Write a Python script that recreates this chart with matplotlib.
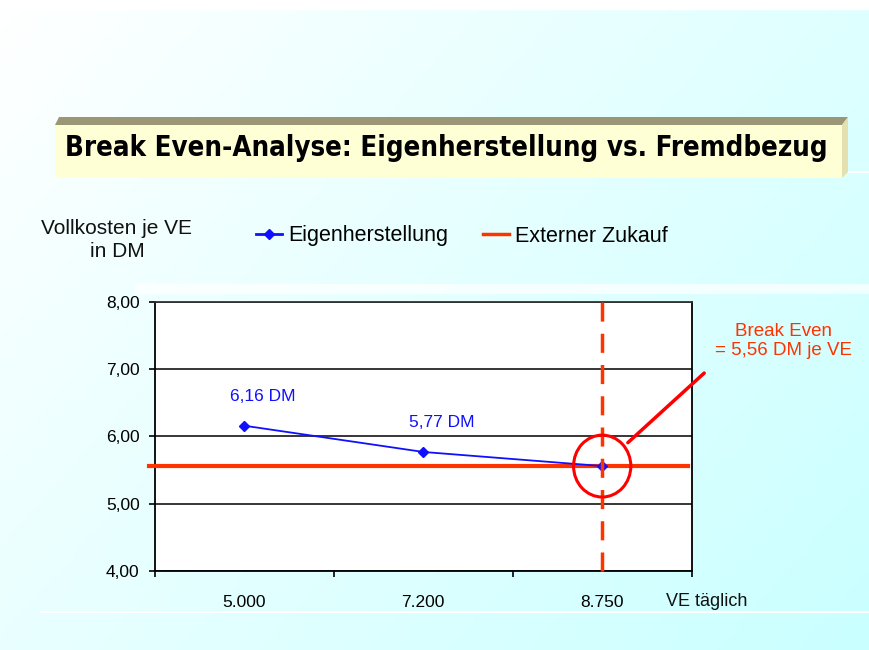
import numpy as np
import matplotlib
matplotlib.use("Agg")
import matplotlib.pyplot as plt
from matplotlib import font_manager
from matplotlib.patches import Rectangle, Polygon, Ellipse
from matplotlib.lines import Line2D

# data
kategorien = ["5.000", "7.200", "8.750"]
eigen = [6.16, 5.77, 5.56]
extern = 5.56
y_ticks = [4, 5, 6, 7, 8]
titel = "Break Even-Analyse: Eigenherstellung vs. Fremdbezug"
y_titel = "Vollkosten je VE\nin DM"
x_titel = "VE täglich"
serien = ["Eigenherstellung", "Externer Zukauf"]

blau = "#1010ff"
rot = "#ff3300"

plt.rcParams["font.family"] = ["Liberation Sans", "DejaVu Sans"]

# schmale fette schrift fuer den titel suchen
def ist_fett(f):
    w = f.weight
    return w in ("bold", "heavy", "black", "semibold", "demibold") or (isinstance(w, int) and w >= 600)

schmal = None
for f in font_manager.fontManager.ttflist:
    name = (f.name + " " + f.fname).lower()
    if ("narrow" in name or "condensed" in name or f.stretch in ("condensed", "semi-condensed")) \
            and ist_fett(f) and "mono" not in name and "italic" not in name and "oblique" not in name:
        schmal = font_manager.FontProperties(fname=f.fname)
        break
if schmal is None:
    schmal = font_manager.FontProperties(family="Liberation Sans", weight="bold")

fig = plt.figure(figsize=(8.7, 6.5), dpi=100)

# hintergrund (pixel-koordinaten)
bg = fig.add_axes([0, 0, 1, 1])
bg.set_xlim(0, 870)
bg.set_ylim(650, 0)
bg.axis("off")
gx, gy = np.meshgrid(np.linspace(0, 1, 200), np.linspace(0, 1, 150))
t = 0.6 * gx + 0.4 * gy
cyan = np.array([0.79, 1.0, 1.0])
img = (1 - t[..., None]) * np.ones(3) + t[..., None] * cyan
bg.imshow(img, extent=(0, 870, 650, 0), aspect="auto", zorder=0)
bg.add_patch(Rectangle((0, 0), 870, 9, color="white", zorder=1))
bg.add_patch(Rectangle((135, 284), 735, 10, color="white", alpha=0.7, lw=0, zorder=1))
bg.add_patch(Rectangle((40, 611), 830, 2, color="white", lw=0, zorder=1))
bg.add_patch(Rectangle((842, 171), 28, 1.5, color="white", lw=0, zorder=1))

# titelbox
bg.add_patch(Rectangle((55, 125), 787, 53, facecolor="#ffffd6", edgecolor="none", zorder=2))
bg.add_patch(Polygon([(55, 125), (59, 117), (848, 117), (842, 125)], closed=True,
                     facecolor="#9a9676", edgecolor="none", zorder=2))
bg.add_patch(Polygon([(842, 125), (848, 117), (848, 172), (842, 178)], closed=True,
                     facecolor="#e4e0b0", edgecolor="none", zorder=2))
tt = bg.text(65, 156, titel, fontproperties=schmal, fontsize=23,
             ha="left", va="baseline", color="black", zorder=3)
fig.canvas.draw()
breite = tt.get_window_extent().width
tt.set_fontsize(min(23 * 763 / breite, 25))

bg.text(117, 240, y_titel, fontsize=15, ha="center", va="center",
        linespacing=1.25, color="#111111")
bg.text(707, 601, x_titel, fontsize=13, ha="center", va="center", color="#111111")

# diagramm
ax = fig.add_axes([0.178, 0.1215, 0.617, 0.414])
ax.set_facecolor("white")
x = np.arange(len(kategorien))
ax.plot(x, eigen, color=blau, lw=1.3, marker="D", ms=5, zorder=4)
ax.axhline(extern, xmin=-0.01, xmax=0.993, color=rot, lw=3, clip_on=False, zorder=3)
ax.plot([x[-1], x[-1]], [1, -0.045], transform=ax.get_xaxis_transform(), color=rot,
        lw=2.5, ls=(0, (5.5, 3.5)), clip_on=False, zorder=5)

for i in range(2):
    ax.annotate(f"{eigen[i]:.2f} DM".replace(".", ","), xy=(x[i], eigen[i]),
                xytext=(18, 29), textcoords="offset pixels", ha="center", va="center",
                fontsize=12.5, color=blau)

ax.add_patch(Ellipse((x[-1], extern), 0.32, 0.92, fill=False, edgecolor="#ff0000",
                     lw=2.2, clip_on=False, zorder=6))
ax.annotate("", xy=(x[-1], extern), xytext=(102, 93), textcoords="offset pixels",
            arrowprops=dict(arrowstyle="-", color="#ff0000", lw=2.5,
                            shrinkA=0, shrinkB=25),
            annotation_clip=False)
bg.text(784, 341, "Break Even\n= " + f"{extern:.2f}".replace(".", ",") + " DM je VE",
        fontsize=13.5, color=rot, ha="center", va="center", linespacing=1.2, zorder=3)

ax.set_xlim(-0.5, len(kategorien) - 0.5)
ax.set_ylim(y_ticks[0], y_ticks[-1])
ax.set_yticks(y_ticks)
ax.set_yticklabels([f"{v:.2f}".replace(".", ",") for v in y_ticks], fontsize=12.5)
ax.set_xticks(np.arange(len(kategorien) + 1) - 0.5)
ax.set_xticklabels([])
ax.set_xticks(x, minor=True)
ax.set_xticklabels(kategorien, minor=True, fontsize=12.5)
ax.tick_params(axis="x", which="minor", length=0, pad=17)
ax.tick_params(axis="both", which="major", direction="out", length=4, width=1.2, color="black")
ax.tick_params(axis="y", pad=7)
ax.grid(axis="y", color="black", lw=1.1)
ax.set_axisbelow(True)
for s in ax.spines.values():
    s.set_linewidth(1.3)
    s.set_color("black")
ax.spines["top"].set_color("#333333")

# legende
handles = [Line2D([], [], color=blau, lw=2, marker="D", ms=5),
           Line2D([], [], color=rot, lw=2.5)]
fig.legend(handles, serien, loc="center left", bbox_to_anchor=(256 / 870, 1 - 236 / 650),
           ncol=2, frameon=False, fontsize=15.5, handlelength=1.2, handletextpad=0.3,
           columnspacing=1.6, borderaxespad=0, borderpad=0)

fig.savefig("out.png", dpi=100)
